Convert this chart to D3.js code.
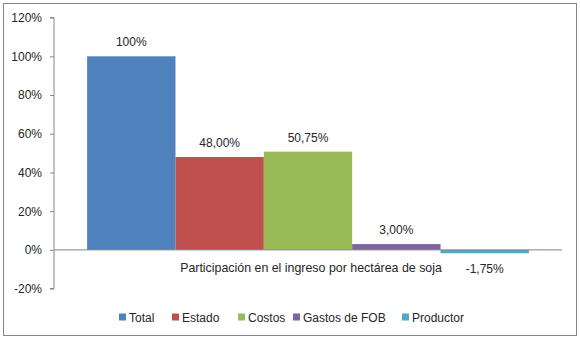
<!DOCTYPE html>
<html>
<head>
<meta charset="utf-8">
<script src="https://cdn.jsdelivr.net/npm/d3@7"></script>
<style>
  html, body { margin: 0; padding: 0; background: #fff; }
  svg text { font-family: "Liberation Sans", Arial, sans-serif; fill: #262626; }
</style>
</head>
<body>
<svg id="chart" width="580" height="340"></svg>
<script>
// Participation of each component in soybean income per hectare
const category = "Participación en el ingreso por hectárea de soja";
const seriesNames = ["Total", "Estado", "Costos", "Gastos de FOB", "Productor"];
const seriesValues = [100, 48, 50.75, 3, -1.75];
const valueLabels = ["100%", "48,00%", "50,75%", "3,00%", "-1,75%"];
const seriesColors = ["#4f81bd", "#c0504d", "#9bbb59", "#8064a2", "#4bacc6"];
const yTicks = [-20, 0, 20, 40, 60, 80, 100, 120];

const svg = d3.select("#chart");

// outer chart border
svg.append("rect")
  .attr("x", 3.5).attr("y", 3.5)
  .attr("width", 573).attr("height", 332)
  .attr("fill", "#fff").attr("stroke", "#868686").attr("stroke-width", 1);

const plot = { left: 54, right: 562, top: 17.6, bottom: 288.6 };

const y = d3.scaleLinear().domain([-20, 120]).range([plot.bottom, plot.top]);

// one category group, bars side by side
const x0 = d3.scaleBand().domain([category]).range([plot.left, plot.right]).paddingInner(0).paddingOuter(0);
const groupW = x0.bandwidth();
const gapFrac = 0.75; // gap width relative to one bar
const barW = groupW / (seriesNames.length + gapFrac);
const x1 = d3.scaleBand().domain(seriesNames)
  .range([x0(category) + barW * gapFrac / 2, x0(category) + groupW - barW * gapFrac / 2])
  .padding(0);

// y axis
const yAxis = d3.axisLeft(y).tickValues(yTicks).tickFormat(d => d + "%").tickSize(4).tickPadding(8);
const gy = svg.append("g").attr("transform", `translate(${plot.left},0)`).call(yAxis);
gy.select(".domain").attr("stroke", "#868686").attr("d", `M-4,${plot.top}H0V${plot.bottom}H-4`);
gy.selectAll(".tick line").attr("stroke", "#868686");
gy.selectAll(".tick text").attr("font-size", 12).style("fill", "#262626")
  .attr("font-family", "Liberation Sans, Arial, sans-serif");

// bars
svg.append("g").selectAll("rect")
  .data(seriesValues)
  .join("rect")
  .attr("x", (d, i) => x1(seriesNames[i]))
  .attr("width", x1.bandwidth())
  .attr("y", d => y(Math.max(0, d)))
  .attr("height", d => Math.abs(y(d) - y(0)))
  .attr("fill", (d, i) => seriesColors[i]);

// category axis at zero
svg.append("line")
  .attr("x1", plot.left).attr("x2", plot.right)
  .attr("y1", y(0)).attr("y2", y(0))
  .attr("stroke", "#868686");

// category label
svg.append("text")
  .attr("x", (plot.left + plot.right) / 2 + 3)
  .attr("y", 272)
  .attr("text-anchor", "middle")
  .attr("font-size", 12.4)
  .text(category);

// value labels
svg.append("g").selectAll("text")
  .data(seriesValues)
  .join("text")
  .attr("x", (d, i) => x1(seriesNames[i]) + x1.bandwidth() / 2)
  .attr("y", d => d >= 0 ? y(d) - 10 : y(0) + 23)
  .attr("text-anchor", "middle")
  .attr("font-size", 12)
  .text((d, i) => valueLabels[i]);

// legend
const legendX = [119, 172, 238, 293, 402];
const legend = svg.append("g").selectAll("g")
  .data(seriesNames)
  .join("g")
  .attr("transform", (d, i) => `translate(${legendX[i]},317)`);
legend.append("rect")
  .attr("x", 0).attr("y", -3.5)
  .attr("width", 7).attr("height", 7)
  .attr("fill", (d, i) => seriesColors[i]);
legend.append("text")
  .attr("x", 10).attr("y", 4.5)
  .attr("font-size", 12)
  .text(d => d);
</script>
</body>
</html>
